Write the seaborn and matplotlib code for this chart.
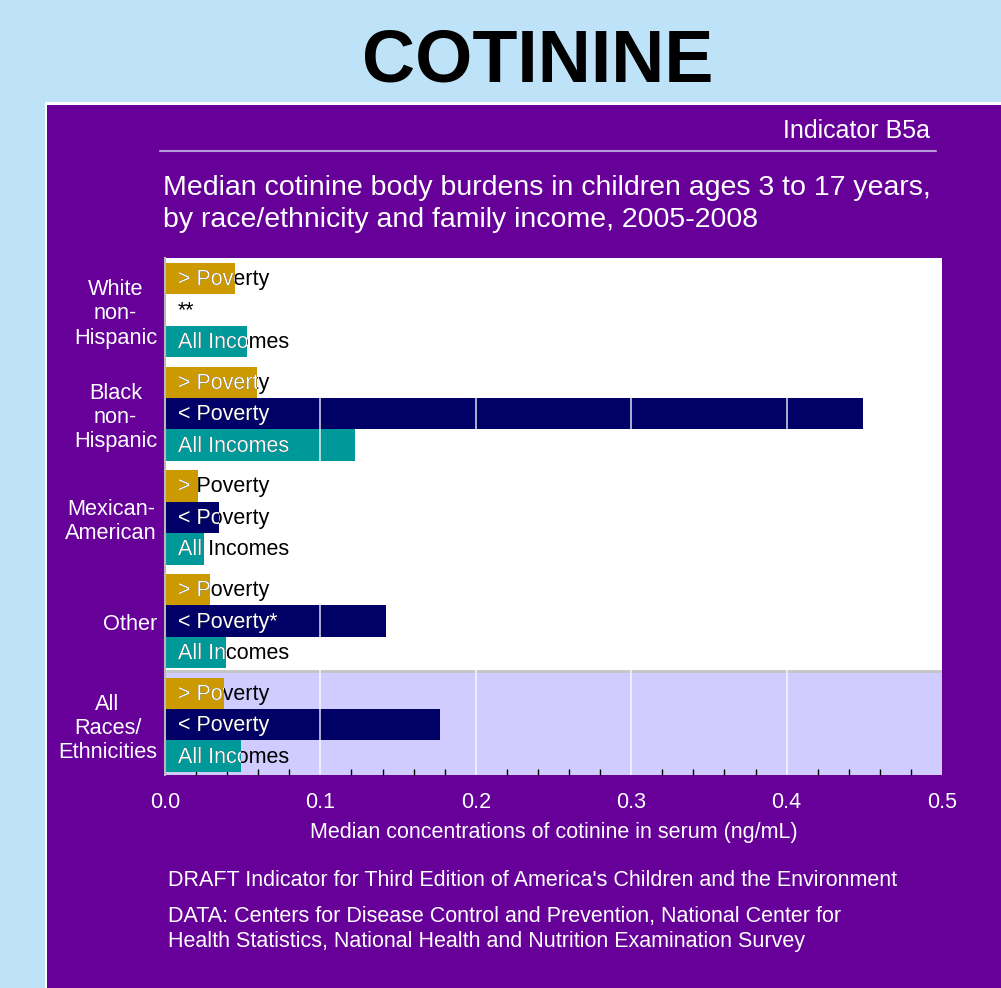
import numpy as np
import pandas as pd
import matplotlib
matplotlib.use("Agg")
import matplotlib.pyplot as plt
import matplotlib.transforms as mtransforms
from matplotlib.patches import Rectangle
from matplotlib.ticker import MultipleLocator
import seaborn as sns

sns.set_theme(style="white")
plt.rcParams["font.family"] = ["Liberation Sans", "DejaVu Sans"]

# ---- data -------------------------------------------------------------
groups = ["White\nnon-\nHispanic", "Black\nnon-\nHispanic", "Mexican-\nAmerican",
          "Other", "All\nRaces/\nEthnicities"]
incomes = ["> Poverty", "< Poverty", "All Incomes"]
above_poverty = [0.045, 0.059, 0.021, 0.029, 0.038]
below_poverty = [np.nan, 0.449, 0.035, 0.142, 0.177]
all_incomes = [0.053, 0.122, 0.025, 0.039, 0.049]
row_labels = [
    ["> Poverty", "**", "All Incomes"],
    ["> Poverty", "< Poverty", "All Incomes"],
    ["> Poverty", "< Poverty", "All Incomes"],
    ["> Poverty", "< Poverty*", "All Incomes"],
    ["> Poverty", "< Poverty", "All Incomes"],
]
x_ticks = [0.0, 0.1, 0.2, 0.3, 0.4, 0.5]
x_tick_labels = ["0.0", "0.1", "0.2", "0.3", "0.4", "0.5"]

# ---- layout of rows (3 rows per group, small gap between groups) ------
GROUP_STEP = 3.3
records = []
for gi, g in enumerate(groups):
    vals = [above_poverty[gi], below_poverty[gi], all_incomes[gi]]
    for ri, inc in enumerate(incomes):
        records.append({"group": g, "income": inc, "value": vals[ri],
                        "ypos": gi * GROUP_STEP + ri + 0.5,
                        "label": row_labels[gi][ri]})
df = pd.DataFrame(records)
plot_df = df.dropna(subset=["value"])

palette = {"> Poverty": "#CC9900", "< Poverty": "#000066", "All Incomes": "#009999"}

PURPLE = "#660099"
fig = plt.figure(figsize=(10.01, 9.88), dpi=100)
fig.patch.set_facecolor("#BEE3F8")

# purple panel with white border
fig.patches.append(Rectangle((45 / 1001, 0), 1 - 45 / 1001, 1 - 102 / 988,
                             transform=fig.transFigure, facecolor="white",
                             edgecolor="none", zorder=-2))
fig.patches.append(Rectangle((47 / 1001, 0), 1, 1 - 105 / 988,
                             transform=fig.transFigure, facecolor=PURPLE,
                             edgecolor="none", zorder=-1))

fig.text(538 / 1001, 1 - 62 / 988, "COTININE", ha="center", va="center",
         fontsize=53, fontweight="bold", color="black")
fig.text(930 / 1001, 1 - 131 / 988, "Indicator B5a", ha="right", va="center",
         fontsize=18, color="white")
fig.add_artist(plt.Line2D([160 / 1001, 936 / 1001], [1 - 151 / 988, 1 - 151 / 988],
                          transform=fig.transFigure, color="#B89CD8", lw=1.5))
fig.text(163 / 1001, 1 - 204 / 988,
         "Median cotinine body burdens in children ages 3 to 17 years,\n"
         "by race/ethnicity and family income, 2005-2008",
         ha="left", va="center", fontsize=20.5, color="white", linespacing=1.28)

ax = fig.add_axes([165 / 1001, 1 - 775 / 988, (942 - 165) / 1001, (775 - 258) / 988])
ax.set_zorder(1)
ax.set_facecolor("white")

ymax = 4 * GROUP_STEP + 3 + 0.1
ymin = -0.16

# shaded band for the all-races group
ax.axhspan(4 * GROUP_STEP - 0.2, ymax, color="#D0CCFF", zorder=0, lw=0)
ax.axhline(4 * GROUP_STEP - 0.2, color="#C4C4C4", lw=2, zorder=0.5)

sns.barplot(data=plot_df, x="value", y="ypos", hue="income", palette=palette,
            orient="h", native_scale=True, dodge=False, width=1.0,
            errorbar=None, legend=False, ax=ax, saturation=1, linewidth=0,
            zorder=1)

ax.set_xlim(0, 0.5)
ax.set_ylim(ymax, ymin)
ax.set_xticks(x_ticks)
ax.set_xticklabels(x_tick_labels, color="white", fontsize=15.5)
ax.xaxis.set_minor_locator(MultipleLocator(0.02))
ax.tick_params(axis="x", which="major", length=0, pad=12)
ax.tick_params(axis="x", which="minor", bottom=True, direction="in", length=4,
               width=1, color="black")
ax.set_yticks([])
ax.set_xlabel("Median concentrations of cotinine in serum (ng/mL)", color="white",
              fontsize=15.5, labelpad=7)
ax.set_ylabel("")

ax.grid(False)
for xv in x_ticks[1:-1]:
    ax.axvline(xv, color="white", lw=1.2, alpha=0.8, zorder=2)

for side in ["top", "right", "bottom"]:
    ax.spines[side].set_visible(False)
ax.spines["left"].set_color("#B8B8B8")
ax.spines["left"].set_linewidth(1.5)

# group labels: block right-aligned beside the axis, lines centred in the block
ylab_tr = mtransforms.blended_transform_factory(ax.transAxes, ax.transData)
for gi, g in enumerate(groups):
    ax.text((157 - 165) / 777, gi * GROUP_STEP + 1.62, g, transform=ylab_tr,
            ha="right", va="center", multialignment="center", fontsize=15.7,
            color="white", linespacing=1.2, clip_on=False)

# bar labels: black text, with a white copy clipped to the bar
bars = [p for p in ax.patches if isinstance(p, Rectangle) and p.get_height() > 0.5]
for _, row in df.iterrows():
    x0 = 13 / 777
    ax.text(x0, row["ypos"] + 0.03, row["label"], transform=ylab_tr, ha="left",
            va="center", fontsize=15.5, color="black", zorder=3)
    if np.isnan(row["value"]):
        continue
    bar = min(bars, key=lambda p: abs(p.get_y() + p.get_height() / 2 - row["ypos"]))
    t = ax.text(x0, row["ypos"] + 0.03, row["label"], transform=ylab_tr, ha="left",
                va="center", fontsize=15.5, color="white", zorder=4)
    t.set_clip_on(True)
    t.set_clip_path(bar)

fig.text(168 / 1001, 1 - 880 / 988,
         "DRAFT Indicator for Third Edition of America's Children and the Environment",
         ha="left", va="center", fontsize=15.5, color="white")
fig.text(168 / 1001, 1 - 929 / 988,
         "DATA: Centers for Disease Control and Prevention, National Center for\n"
         "Health Statistics, National Health and Nutrition Examination Survey",
         ha="left", va="center", fontsize=15.5, color="white", linespacing=1.25)

fig.savefig("out.png", dpi=100, facecolor=fig.get_facecolor())
